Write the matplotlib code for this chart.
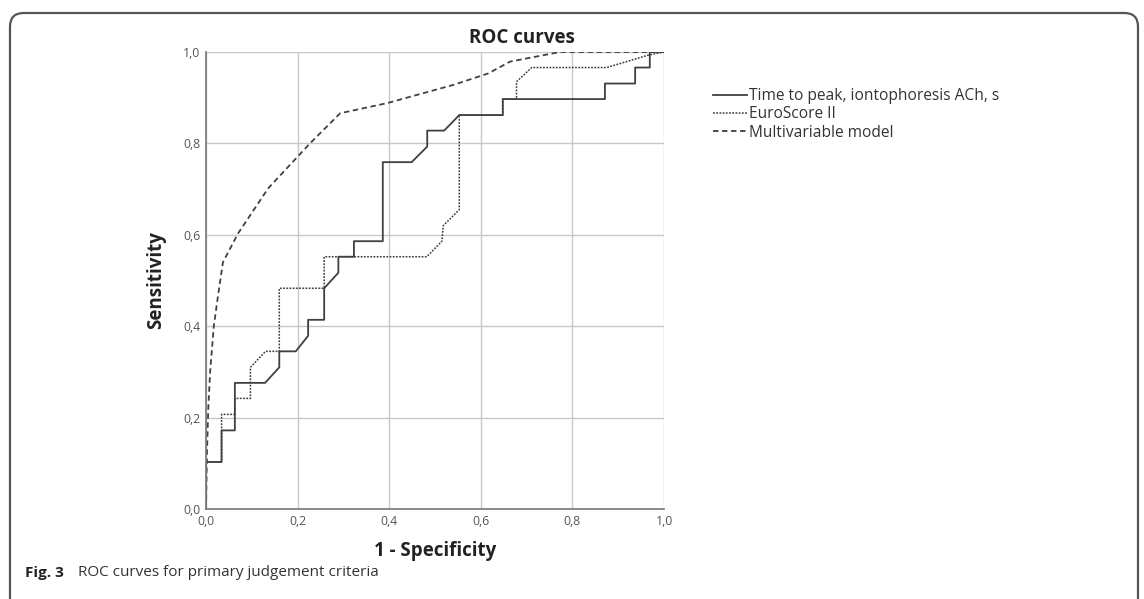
import matplotlib
matplotlib.use("Agg")
import matplotlib.pyplot as plt
from matplotlib.patches import FancyBboxPatch

# ROC curve vertices (1 - specificity, sensitivity)
time_to_peak_fpr = [0.0, 0.0, 0.034, 0.034, 0.063, 0.063, 0.129, 0.16, 0.16, 0.196, 0.223,
                    0.223, 0.258, 0.258, 0.289, 0.289, 0.323, 0.323, 0.386, 0.386, 0.449,
                    0.483, 0.483, 0.52, 0.553, 0.648, 0.648, 0.871, 0.871, 0.937, 0.937,
                    0.969, 0.969, 1.0]
time_to_peak_tpr = [0.0, 0.103, 0.103, 0.172, 0.172, 0.276, 0.276, 0.31, 0.345, 0.345, 0.379,
                    0.414, 0.414, 0.483, 0.517, 0.552, 0.552, 0.586, 0.586, 0.759, 0.759,
                    0.793, 0.828, 0.828, 0.862, 0.862, 0.897, 0.897, 0.931, 0.931, 0.966,
                    0.966, 1.0, 1.0]

euroscore_fpr = [0.0, 0.0, 0.034, 0.034, 0.063, 0.063, 0.097, 0.097, 0.13, 0.16, 0.16,
                 0.258, 0.258, 0.482, 0.515, 0.518, 0.553, 0.553, 0.648, 0.648, 0.678,
                 0.678, 0.711, 0.875, 0.965, 1.0]
euroscore_tpr = [0.0, 0.103, 0.103, 0.207, 0.207, 0.242, 0.242, 0.31, 0.345, 0.345, 0.483,
                 0.483, 0.552, 0.552, 0.586, 0.62, 0.655, 0.862, 0.862, 0.897, 0.897,
                 0.935, 0.966, 0.966, 0.993, 1.0]

multivar_fpr = [0.0, 0.002, 0.005, 0.009, 0.017, 0.026, 0.037, 0.07, 0.136, 0.227, 0.293,
                0.395, 0.54, 0.616, 0.664, 0.773, 1.0]
multivar_tpr = [0.0, 0.12, 0.22, 0.3, 0.4, 0.465, 0.54, 0.603, 0.702, 0.8, 0.866,
                0.888, 0.928, 0.953, 0.979, 1.0, 1.0]

series_labels = ["Time to peak, iontophoresis ACh, s", "EuroScore II", "Multivariable model"]
tick_values = [0.0, 0.2, 0.4, 0.6, 0.8, 1.0]
tick_labels = ["0,0", "0,2", "0,4", "0,6", "0,8", "1,0"]

W, H = 1144, 599
plt.rcParams['font.family'] = ['Open Sans', 'DejaVu Sans']

fig = plt.figure(figsize=(W / 100, H / 100), dpi=100)
fig.patch.set_facecolor("white")

# outer rounded frame (bottom runs off the page like in the source)
frame = FancyBboxPatch((10 / W, -0.05), (1138 - 10) / W, 1 - 13 / H + 0.05,
                       boxstyle="round,pad=0,rounding_size=0.012",
                       transform=fig.transFigure, fill=False,
                       edgecolor="#555555", linewidth=1.6, mutation_aspect=W / H)
fig.patches.append(frame)

ax = fig.add_axes([206 / W, 1 - 509 / H, (664 - 206) / W, (509 - 52) / H])
ax.set_xlim(0, 1)
ax.set_ylim(0, 1)

line_color = "#404040"
ax.plot(time_to_peak_fpr, time_to_peak_tpr, color=line_color, lw=1.3,
        label=series_labels[0])
ax.plot(euroscore_fpr, euroscore_tpr, color=line_color, lw=1.1,
        linestyle=(0, (1.2, 0.9)), label=series_labels[1])
ax.plot(multivar_fpr, multivar_tpr, color=line_color, lw=1.3,
        linestyle=(0, (3.0, 2.0)), label=series_labels[2])

ax.set_xticks(tick_values)
ax.set_xticklabels(tick_labels)
ax.set_yticks(tick_values)
ax.set_yticklabels(tick_labels)
ax.tick_params(labelsize=8.8, colors="#555555", length=0, pad=4)
ax.grid(True, color="#c8c8c8", linewidth=1.0)
ax.set_axisbelow(True)
for side in ["top", "right"]:
    ax.spines[side].set_visible(False)
for side in ["left", "bottom"]:
    ax.spines[side].set_color("#777777")
    ax.spines[side].set_linewidth(1.2)

ax.set_xlabel("1 - Specificity", fontsize=13.5, fontweight="bold", color="#222222", labelpad=10)
ax.set_ylabel("Sensitivity", fontsize=13.5, fontweight="bold", color="#222222", labelpad=12)

fig.text(522 / W, 1 - 38 / H, "ROC curves", fontsize=13.5, fontweight="bold",
         color="#222222", ha="center", va="center")

fig.legend(loc="upper left", bbox_to_anchor=(713 / W, 1 - 88 / H), frameon=False,
           fontsize=11.2, handlelength=2.2, handletextpad=0.1, labelspacing=0.15,
           borderpad=0, borderaxespad=0, labelcolor="#333333")

fig.text(25 / W, 1 - 573 / H, "Fig. 3", fontsize=11, fontweight="bold",
         color="#222222", ha="left", va="center")
fig.text(78 / W, 1 - 573 / H, "ROC curves for primary judgement criteria", fontsize=11,
         color="#333333", ha="left", va="center")

fig.savefig("out.png", dpi=100)
